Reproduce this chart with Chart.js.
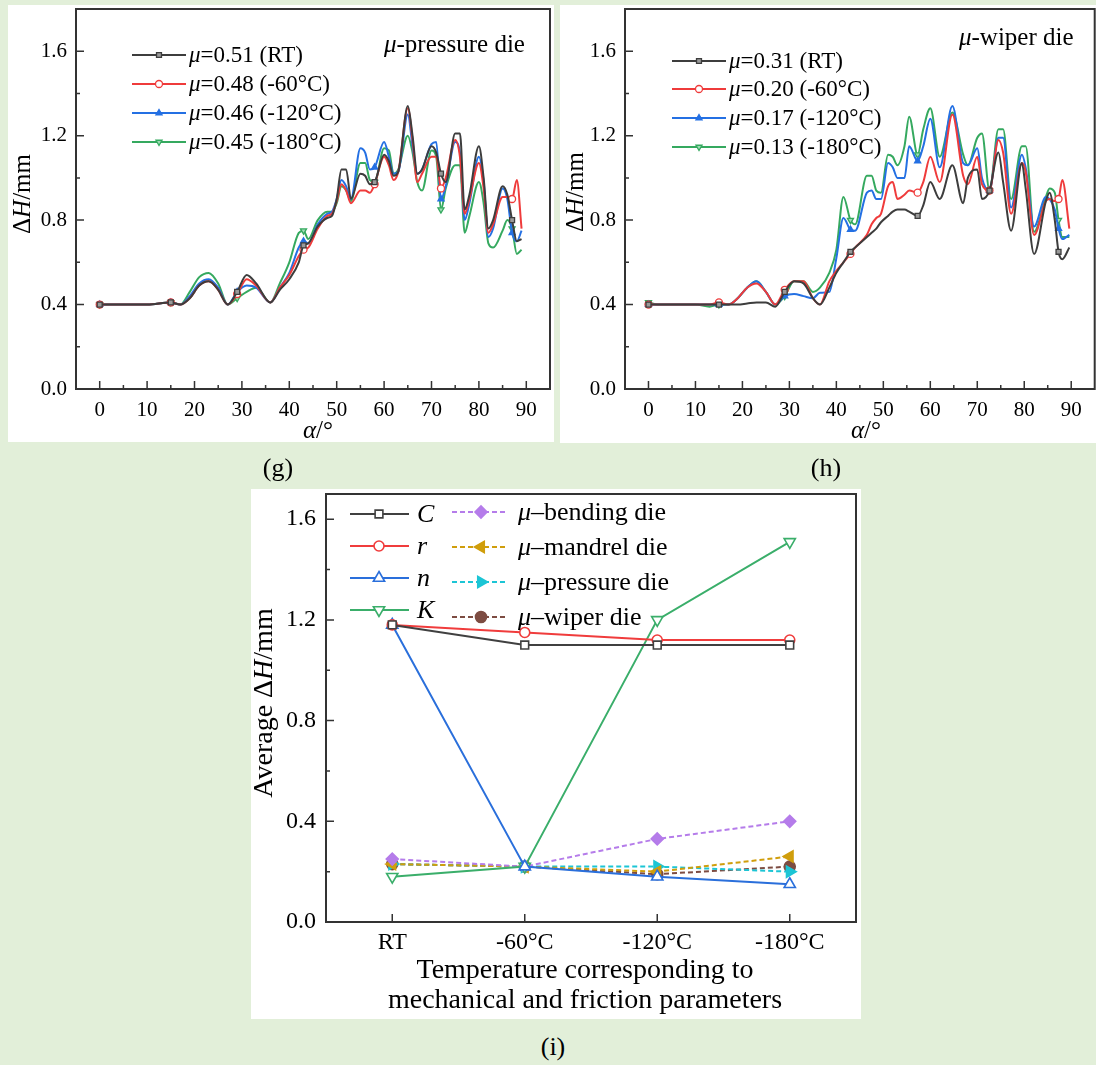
<!DOCTYPE html>
<html><head><meta charset="utf-8">
<script src="https://cdn.jsdelivr.net/npm/chart.js@4.4.1/dist/chart.umd.min.js"></script>
<style>
html,body{margin:0;padding:0;width:1096px;height:1065px;overflow:hidden;background:#e2efd9;}
.box{position:absolute;background:#fff;}
canvas{position:absolute;}
.lab{position:absolute;font:26px 'Liberation Serif','Times New Roman',serif;color:#000;transform:translate(-50%,-50%);white-space:nowrap;}
</style></head><body>
<div class="box" style="left:8px;top:5px;width:546px;height:437px"></div>
<div class="box" style="left:560px;top:5px;width:536px;height:438px"></div>
<div class="box" style="left:251px;top:489px;width:610px;height:530px"></div>
<canvas id="cg" width="556" height="445" style="left:0;top:0"></canvas>
<canvas id="ch" width="544" height="445" style="left:556px;top:0"></canvas>
<canvas id="ci" width="630" height="545" style="left:240px;top:480px"></canvas>
<div class="lab" style="left:278px;top:468px">(g)</div>
<div class="lab" style="left:826px;top:468px">(h)</div>
<div class="lab" style="left:553px;top:1047px">(i)</div>
<script>
// ---------- DATA ----------
const alphaG = [0,5,10,15,17,19,21,23,25,27,29,31,33,36,38,40,42,43,44,46,48,49,50,51,52,53,55,56,57,58,60,61,62,63,65,66,67,68,70,71,72,73,75,76,77,78,80,81,82,83,85,86,87,88,89];
const gRT   = [0.40,0.40,0.40,0.41,0.40,0.43,0.49,0.51,0.47,0.40, 0.46,0.54,0.50,0.41,0.47,0.52,0.60,0.68,0.69,0.77, 0.81,0.82,0.90,1.04,1.04,0.90,1.02,1.01,0.97,0.98, 1.11,1.08,1.01,1.03,1.34,1.20,1.02,1.04,1.15,1.12, 1.02,0.98,1.21,1.21,0.85,0.92,1.15,1.00,0.76,0.80, 0.96,0.92,0.80,0.70,0.71];
const gM60  = [0.40,0.40,0.40,0.41,0.40,0.43,0.49,0.51,0.47,0.40, 0.45,0.52,0.49,0.41,0.48,0.54,0.63,0.66,0.67,0.76, 0.82,0.83,0.89,0.97,0.94,0.88,0.94,0.94,0.93,0.97, 1.10,1.06,0.99,1.03,1.33,1.18,0.98,1.02,1.10,1.10, 0.95,1.00,1.18,1.10,0.83,0.90,1.07,0.95,0.74,0.78, 0.91,0.91,0.90,0.99,0.76];
const gM120 = [0.40,0.40,0.40,0.41,0.40,0.44,0.50,0.52,0.48,0.40, 0.46,0.49,0.48,0.41,0.48,0.55,0.67,0.70,0.69,0.78, 0.83,0.84,0.90,0.99,0.96,0.90,1.14,1.12,1.04,1.05, 1.17,1.10,1.02,1.03,1.30,1.15,1.02,1.04,1.16,1.17, 0.90,0.96,1.17,1.12,0.80,0.88,1.10,0.98,0.72,0.76, 0.95,0.90,0.74,0.70,0.75];
const gM180 = [0.40,0.40,0.40,0.41,0.40,0.46,0.53,0.55,0.50,0.40, 0.43,0.46,0.48,0.41,0.50,0.60,0.74,0.75,0.71,0.80, 0.84,0.84,0.88,0.96,0.94,0.89,1.07,1.07,0.99,0.98, 1.14,1.13,1.02,1.04,1.20,1.12,0.98,0.94,1.13,1.10, 0.85,0.95,1.06,1.06,0.74,0.82,0.98,0.88,0.69,0.67, 0.75,0.80,0.76,0.64,0.66];
const labelsG = ['μ=0.51 (RT)','μ=0.48 (-60°C)','μ=0.46 (-120°C)','μ=0.45 (-180°C)'];

const alphaH = [0,2,5,10,13,15,17,19,21,23, 25,27,29,31,33,35,36.5,38.5,40,41.5, 43,44,46.5,47.5,48.5,49.5,51,52,53,54.5, 55.5,57.3,58.5,60,62,64.7,67,68,70,71, 72.6,74.5,75.5,77.2,79.5,80.3,82.1,84.6,85.4,86.5, 87.3,88.1,89.6];
const hRT   = [0.40,0.40,0.40,0.40,0.40,0.40,0.40,0.40,0.405,0.41, 0.41,0.39,0.46,0.51,0.50,0.43,0.40,0.48,0.55,0.60, 0.65,0.67,0.72,0.74,0.76,0.79,0.82,0.84,0.85,0.85, 0.84,0.82,0.87,0.98,0.90,1.06,0.88,1.00,1.04,0.90, 0.94,1.12,0.98,0.75,1.07,0.95,0.64,0.89,0.93,0.80, 0.65,0.615,0.67];
const hM60  = [0.40,0.40,0.40,0.40,0.40,0.41,0.40,0.43,0.48,0.50, 0.46,0.40,0.47,0.51,0.51,0.43,0.40,0.51,0.56,0.60, 0.64,0.67,0.73,0.78,0.81,0.83,0.96,0.98,0.90,0.92, 0.94,0.93,0.98,1.10,0.98,1.30,1.01,0.97,1.10,0.97, 0.94,1.18,1.12,0.83,1.07,1.03,0.73,0.89,0.90,0.89, 0.90,0.99,0.76];
const hM120 = [0.40,0.40,0.40,0.40,0.40,0.40,0.40,0.43,0.48,0.51, 0.46,0.40,0.44,0.45,0.44,0.43,0.456,0.46,0.62,0.81, 0.755,0.75,0.93,0.94,0.90,0.90,1.07,1.05,1.00,1.00, 1.15,1.08,1.15,1.28,1.05,1.34,1.07,1.06,1.14,1.00, 0.94,1.19,1.19,0.86,1.11,1.05,0.77,0.91,0.90,0.85, 0.76,0.71,0.73];
const hM180 = [0.41,0.40,0.40,0.40,0.39,0.40,0.40,0.43,0.48,0.51, 0.46,0.40,0.44,0.51,0.51,0.46,0.48,0.55,0.66,0.91, 0.80,0.78,1.01,1.01,0.94,0.93,1.11,1.10,1.06,1.15, 1.29,1.11,1.23,1.33,1.10,1.31,1.11,1.06,1.19,1.21, 0.94,1.23,1.23,0.90,1.15,1.15,0.745,0.91,0.95,0.93, 0.80,0.72,0.72];
const labelsH = ['μ=0.31 (RT)','μ=0.20 (-60°C)','μ=0.17 (-120°C)','μ=0.13 (-180°C)'];

const tempLabels = ['RT','-60°C','-120°C','-180°C'];
const avgC = [1.18,1.10,1.10,1.10];
const avgR = [1.18,1.15,1.12,1.12];
const avgN = [1.18,0.22,0.18,0.15];
const avgK = [0.18,0.22,1.20,1.51];
const muBending  = [0.25,0.22,0.33,0.40];
const muMandrel  = [0.23,0.22,0.20,0.26];
const muPressure = [0.23,0.22,0.22,0.20];
const muWiper    = [0.23,0.22,0.19,0.22];
const labelsI = ['C','r','n','K','μ–bending die','μ–mandrel die','μ–pressure die','μ–wiper die'];

const alphaTicks = [0,10,20,30,40,50,60,70,80,90];
const alphaMinor = [5,15,25,35,45,55,65,75,85];
const dhTicks = [0,0.4,0.8,1.2,1.6];
const dhMinor = [0.2,0.6,1.0,1.4];

// ---------- HELPERS ----------
const SERIF = "'Liberation Serif','Times New Roman',serif";
function segs(s){
  if (s.length === 1) return [{t:s,i:true}];
  const out = []; let prev = '';
  for (const ch of s){
    const it = ch==='μ' || ch==='α' || (ch==='H' && prev==='Δ');
    if (out.length && out[out.length-1].i === it) out[out.length-1].t += ch;
    else out.push({t:ch,i:it});
    prev = ch;
  }
  return out;
}
function drawRich(ctx, s, x, y, size, align, rot){
  ctx.save(); ctx.translate(x,y); if (rot) ctx.rotate(rot);
  const parts = segs(s); let w = 0;
  parts.forEach(p=>{ ctx.font=(p.i?'italic ':'')+size+'px '+SERIF; p.w=ctx.measureText(p.t).width; w+=p.w; });
  let cx = align==='center' ? -w/2 : 0;
  ctx.textBaseline='middle'; ctx.textAlign='left'; ctx.fillStyle='#000';
  parts.forEach(p=>{ ctx.font=(p.i?'italic ':'')+size+'px '+SERIF; ctx.fillText(p.t,cx,0); cx+=p.w; });
  ctx.restore();
}
function zeroPad(s){ s.paddingTop=0; s.paddingBottom=0; s.paddingLeft=0; s.paddingRight=0; }

function decorPlugin(o){
  return { id:'decor', afterDatasetsDraw(chart){
    const {ctx, chartArea:a, scales} = chart; const x=scales.x, y=scales.y;
    ctx.save(); ctx.strokeStyle='#333'; ctx.lineWidth=1.5; ctx.beginPath();
    const tk=(vals,len,axis)=>vals.forEach(v=>{
      if (axis==='x'){ const p=x.getPixelForValue(v); ctx.moveTo(p,a.bottom); ctx.lineTo(p,a.bottom-len); }
      else { const p=y.getPixelForValue(v); ctx.moveTo(a.left,p); ctx.lineTo(a.left+len,p); }
    });
    tk(o.xMajor,8,'x'); tk(o.xMinor,4,'x'); tk(o.yMajor,8,'y'); tk(o.yMinor,4,'y');
    ctx.stroke();
    ctx.lineWidth=2; ctx.strokeRect(a.left,a.top,a.right-a.left,a.bottom-a.top);
    ctx.restore();
    o.texts.forEach(t=>drawRich(ctx,t.s,t.x,t.y,t.size,t.align||'center',t.rot||0));
    o.legend.forEach(col=>col.items.forEach((di,r)=>{
      const ds=chart.data.datasets[di]; const yy=col.rows[r];
      ctx.save(); ctx.strokeStyle=ds.borderColor; ctx.lineWidth=ds.borderWidth;
      ctx.setLineDash(ds.borderDash||[]); ctx.beginPath(); ctx.moveTo(col.x0,yy); ctx.lineTo(col.x1,yy); ctx.stroke();
      ctx.setLineDash([]);
      ctx.fillStyle=ds.pointBackgroundColor; ctx.strokeStyle=ds.pointBorderColor; ctx.lineWidth=ds.pointBorderWidth;
      const rad = col.r || ds.pointRadius;
      if (Chart.helpers && Chart.helpers.drawPoint)
        Chart.helpers.drawPoint(ctx,{pointStyle:ds.pointStyle,rotation:ds.pointRotation||0,radius:rad,borderWidth:ds.pointBorderWidth},col.xm,yy);
      ctx.restore();
      drawRich(ctx,ds.label,col.xt,yy+1,o.legendSize,'left',0);
    }));
  }};
}

const colG = ['#3d3d3d','#ef3b3b','#2470e3','#35a95f'];
const stG = [
  {ps:'rect',rot:0,fill:'#9a9a9a'},
  {ps:'circle',rot:0,fill:'#ffffff'},
  {ps:'triangle',rot:0,fill:'#2470e3'},
  {ps:'triangle',rot:180,fill:'#9fdcb5'}
];
function lineSets(alpha, series, labels, marks){
  return series.map((vals,k)=>({
    label:labels[k],
    data:alpha.map((a,i)=>({x:a,y:vals[i]})),
    borderColor:colG[k], borderWidth:2,
    pointStyle:stG[k].ps, pointRotation:stG[k].rot,
    pointBackgroundColor:stG[k].fill, pointBorderColor:colG[k], pointBorderWidth:1.3,
    pointRadius:c=>marks.includes(c.dataIndex)?3.5:0,
    cubicInterpolationMode:'monotone'
  }));
}
function alphaOptions(padTop,padRight,yW,xH){
  return {
    responsive:false, animation:false, events:[],
    layout:{padding:{left:0,top:padTop,right:padRight,bottom:0}},
    plugins:{legend:{display:false},tooltip:{enabled:false}},
    scales:{
      x:{type:'linear',min:-5,max:95,
         afterBuildTicks:s=>{s.ticks=alphaTicks.map(v=>({value:v}));},
         ticks:{font:{family:SERIF,size:21},color:'#000',padding:9,maxRotation:0,autoSkip:false,callback:v=>String(v)},
         grid:{display:false,drawTicks:false},border:{display:false},
         afterFit:s=>{s.height=xH; zeroPad(s);}},
      y:{type:'linear',min:0,max:1.8,
         afterBuildTicks:s=>{s.ticks=dhTicks.map(v=>({value:v}));},
         ticks:{font:{family:SERIF,size:21},color:'#000',padding:9,callback:v=>v.toFixed(1)},
         grid:{display:false,drawTicks:false},border:{display:false},
         afterFit:s=>{s.width=yW; zeroPad(s);}}
    }
  };
}

// ---------- (g) ----------
new Chart(document.getElementById('cg'),{
  type:'line',
  data:{datasets:lineSets(alphaG,[gRT,gM60,gM120,gM180],labelsG,[0,3,10,17,29,40,52])},
  options:alphaOptions(9,6,76,56),
  plugins:[decorPlugin({
    xMajor:alphaTicks,xMinor:alphaMinor,yMajor:dhTicks,yMinor:dhMinor,
    texts:[{s:'ΔH/mm',x:23,y:194,size:25,rot:-Math.PI/2},{s:'α/°',x:318,y:431,size:25},{s:'μ-pressure die',x:384,y:45,size:25,align:'left'}],
    legendSize:23,
    legend:[{x0:132,x1:186,xm:159,xt:189,r:3.5,rows:[55,84,113,142],items:[0,1,2,3]}]
  })]
});

// ---------- (h) ----------
new Chart(document.getElementById('ch'),{
  type:'line',
  data:{datasets:lineSets(alphaH,[hRT,hM60,hM120,hM180],labelsH,[0,5,12,20,31,40,50])},
  options:alphaOptions(9,3,69,56),
  plugins:[decorPlugin({
    xMajor:alphaTicks,xMinor:alphaMinor,yMajor:dhTicks,yMinor:dhMinor,
    texts:[{s:'ΔH/mm',x:20,y:192,size:25,rot:-Math.PI/2},{s:'α/°',x:310,y:431,size:25},{s:'μ-wiper die',x:403,y:38,size:25,align:'left'}],
    legendSize:23,
    legend:[{x0:116,x1:170,xm:143,xt:173,r:3.5,rows:[61,89,118,147],items:[0,1,2,3]}]
  })]
});

// ---------- (i) ----------
const styI = [
  {c:'#404040',ps:'rect',rot:0,fill:'#ffffff',r:5.5,dash:[]},
  {c:'#f03c3c',ps:'circle',rot:0,fill:'#ffffff',r:5,dash:[]},
  {c:'#2a6fdb',ps:'triangle',rot:0,fill:'#ffffff',r:6.5,dash:[]},
  {c:'#3aae6a',ps:'triangle',rot:180,fill:'#ffffff',r:6.5,dash:[]},
  {c:'#b57cea',ps:'rectRot',rot:0,fill:'#b57cea',r:6,dash:[5,3]},
  {c:'#d09e0c',ps:'triangle',rot:-90,fill:'#d09e0c',r:6.5,dash:[5,3]},
  {c:'#1cc5d5',ps:'triangle',rot:90,fill:'#1cc5d5',r:6.5,dash:[5,3]},
  {c:'#7d4c42',ps:'circle',rot:0,fill:'#7d4c42',r:5.5,dash:[5,3]}
];
const seriesI = [avgC,avgR,avgN,avgK,muBending,muMandrel,muPressure,muWiper];
new Chart(document.getElementById('ci'),{
  type:'line',
  data:{labels:tempLabels,datasets:seriesI.map((vals,k)=>({
    label:labelsI[k], data:vals,
    borderColor:styI[k].c, borderWidth:2, borderDash:styI[k].dash,
    pointStyle:styI[k].ps, pointRotation:styI[k].rot,
    pointBackgroundColor:styI[k].fill, pointBorderColor:styI[k].c, pointBorderWidth:1.6,
    pointRadius:styI[k].r
  }))},
  options:{
    responsive:false, animation:false, events:[],
    layout:{padding:{left:0,top:14,right:14,bottom:0}},
    plugins:{legend:{display:false},tooltip:{enabled:false}},
    scales:{
      x:{type:'category',offset:true,
         ticks:{font:{family:SERIF,size:24},color:'#000',padding:6,maxRotation:0,autoSkip:false},
         grid:{display:false,drawTicks:false,offset:true},border:{display:false},
         afterFit:s=>{s.height=103; zeroPad(s);}},
      y:{type:'linear',min:0,max:1.7,
         afterBuildTicks:s=>{s.ticks=dhTicks.map(v=>({value:v}));},
         ticks:{font:{family:SERIF,size:24},color:'#000',padding:10,callback:v=>v.toFixed(1)},
         grid:{display:false,drawTicks:false},border:{display:false},
         afterFit:s=>{s.width=86; zeroPad(s);}}
    }
  },
  plugins:[decorPlugin({
    xMajor:[0,1,2,3],xMinor:[],yMajor:dhTicks,yMinor:dhMinor,
    texts:[{s:'Average ΔH/mm',x:25,y:223,size:28,rot:-Math.PI/2},
           {s:'Temperature corresponding to',x:345,y:491,size:28},
           {s:'mechanical and friction parameters',x:345,y:521,size:28}],
    legendSize:26,
    legend:[{x0:110,x1:169,xm:139,xt:177,rows:[34,66,98,130],items:[0,1,2,3]},
            {x0:212,x1:267,xm:241,xt:278,rows:[32,67,102,137],items:[4,5,6,7]}]
  })]
});
</script>
</body></html>
